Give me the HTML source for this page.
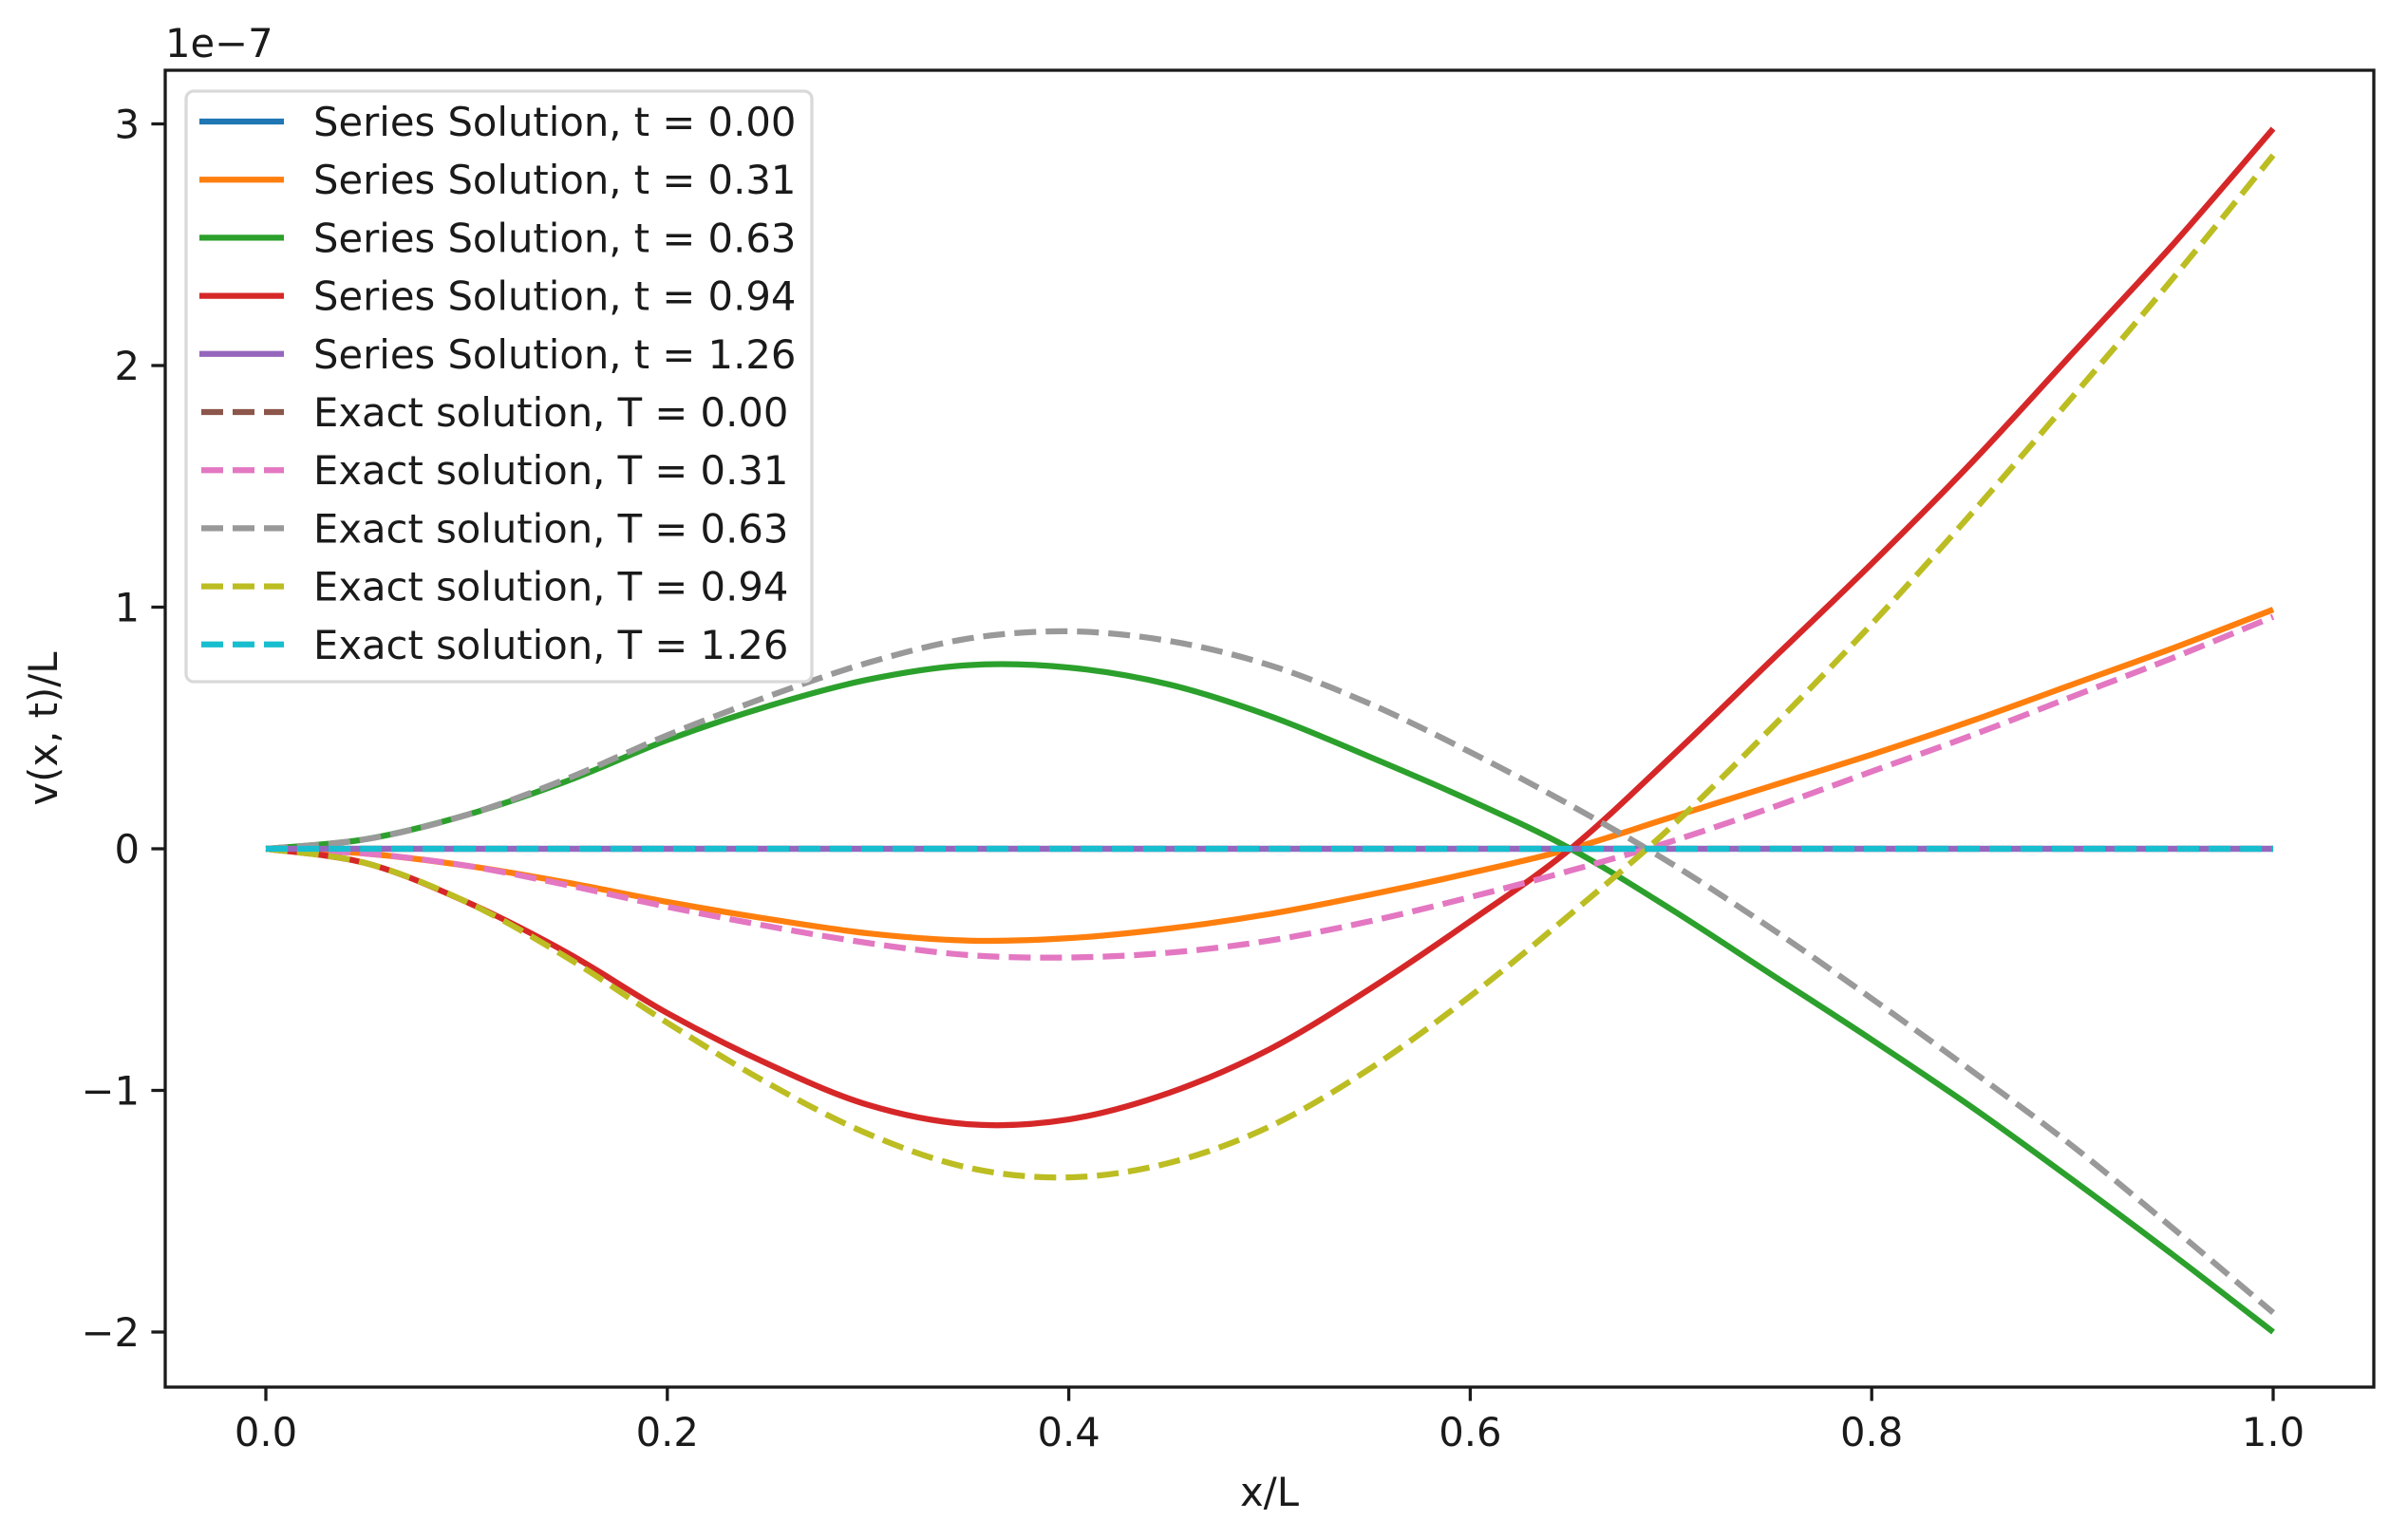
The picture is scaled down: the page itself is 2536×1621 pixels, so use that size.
<!DOCTYPE html>
<html><head><meta charset="utf-8"><style>
html,body{margin:0;padding:0;background:#fff}
svg{display:block;font-family:"DejaVu Sans","Liberation Sans",sans-serif}
</style></head><body>
<svg id="chart" width="2536" height="1621" viewBox="0 0 2536 1621" xmlns="http://www.w3.org/2000/svg"></svg>
<script>
const xs = [0,0.05,0.1,0.15,0.2,0.25,0.3,0.35,0.4,0.45,0.5,0.55,0.6,0.65,0.7,0.75,0.8,0.85,0.9,0.95,1.0];
const seriesT000 = [0,0,0,0,0,0,0,0,0,0,0,0,0,0,0,0,0,0,0,0,0];
const seriesT031 = [0,-0.02,-0.07,-0.14,-0.22,-0.29,-0.35,-0.38,-0.37,-0.33,-0.27,-0.19,-0.10,0,0.13,0.26,0.39,0.53,0.68,0.83,0.99];
const seriesT063 = [0,0.04,0.14,0.28,0.45,0.59,0.70,0.76,0.75,0.68,0.55,0.38,0.20,0,-0.25,-0.52,-0.79,-1.07,-1.37,-1.68,-2.0];
const seriesT094 = [0,-0.06,-0.22,-0.43,-0.68,-0.89,-1.06,-1.14,-1.12,-1.01,-0.83,-0.58,-0.30,0,0.38,0.78,1.18,1.60,2.05,2.50,2.98];
const seriesT126 = [0,0,0,0,0,0,0,0,0,0,0,0,0,0,0,0,0,0,0,0,0];
const exactT000 = [0,0,0,0,0,0,0,0,0,0,0,0,0,0,0,0,0,0,0,0,0];
const exactT031 = [0,-0.02,-0.07,-0.15,-0.24,-0.32,-0.39,-0.44,-0.45,-0.43,-0.38,-0.30,-0.20,-0.09,0.03,0.17,0.32,0.47,0.63,0.79,0.96];
const exactT063 = [0,0.04,0.14,0.29,0.47,0.63,0.77,0.87,0.90,0.86,0.76,0.60,0.40,0.18,-0.06,-0.33,-0.62,-0.92,-1.23,-1.57,-1.92];
const exactT094 = [0,-0.06,-0.22,-0.45,-0.72,-0.97,-1.18,-1.32,-1.36,-1.30,-1.15,-0.91,-0.61,-0.27,0.09,0.50,0.93,1.39,1.87,2.36,2.87];
const exactT126 = [0,0,0,0,0,0,0,0,0,0,0,0,0,0,0,0,0,0,0,0,0];
const xTicks = [0,0.2,0.4,0.6,0.8,1.0];
const xTickLabels = ["0.0","0.2","0.4","0.6","0.8","1.0"];
const yTicks = [-2,-1,0,1,2,3];
const yTickLabels = ["\u22122","\u22121","0","1","2","3"];
const legendLabels = ["Series Solution, t = 0.00","Series Solution, t = 0.31","Series Solution, t = 0.63","Series Solution, t = 0.94","Series Solution, t = 1.26","Exact solution, T = 0.00","Exact solution, T = 0.31","Exact solution, T = 0.63","Exact solution, T = 0.94","Exact solution, T = 1.26"];

const NS="http://www.w3.org/2000/svg";
const svg=document.getElementById('chart');
const L=174,R=2500,T=74,B=1461;
const X0=280,X1=2394; // pixel of x=0, x=1
const Y0=894,YU=254.5; // pixel of y=0, px per unit
const sx=v=>X0+(X1-X0)*v;
const sy=v=>Y0-YU*v;
function mk(tag,attrs,parent){const e=document.createElementNS(NS,tag);for(const k in attrs)e.setAttribute(k,attrs[k]);(parent||svg).appendChild(e);return e;}
function pathFor(vals){
  const p=xs.map((x,i)=>[sx(x),sy(vals[i])]);
  let d=`M${p[0][0]},${p[0][1]}`;
  for(let i=0;i<p.length-1;i++){
    const a=p[Math.max(0,i-1)],b=p[i],c=p[i+1],e=p[Math.min(p.length-1,i+2)];
    const c1=[b[0]+(c[0]-a[0])/6,b[1]+(c[1]-a[1])/6];
    const c2=[c[0]-(e[0]-b[0])/6,c[1]-(e[1]-b[1])/6];
    d+=` C${c1[0]},${c1[1]} ${c2[0]},${c2[1]} ${c[0]},${c[1]}`;
  }
  return d;
}
const series=[
 {v:seriesT000,c:"#1f77b4",dash:false,n:"series-t-0-00"},
 {v:seriesT031,c:"#ff7f0e",dash:false,n:"series-t-0-31"},
 {v:seriesT063,c:"#2ca02c",dash:false,n:"series-t-0-63"},
 {v:seriesT094,c:"#d62728",dash:false,n:"series-t-0-94"},
 {v:seriesT126,c:"#9467bd",dash:false,n:"series-t-1-26"},
 {v:exactT000,c:"#8c564b",dash:true,n:"exact-t-0-00"},
 {v:exactT031,c:"#e377c2",dash:true,n:"exact-t-0-31"},
 {v:exactT063,c:"#999999",dash:true,n:"exact-t-0-63"},
 {v:exactT094,c:"#bcbd22",dash:true,n:"exact-t-0-94"},
 {v:exactT126,c:"#17becf",dash:true,n:"exact-t-1-26"}
];
const g=mk('g',{});


series.forEach(s=>{
  const a={d:pathFor(s.v),fill:"none",stroke:s.c,"stroke-width":6.25};
  if(s.dash)a["stroke-dasharray"]="23 10";
  const e=mk('path',a,g);
  
  
});
// spines
const fr=mk('rect',{x:L,y:T,width:R-L,height:B-T,fill:"none",stroke:"#1a1a1a","stroke-width":3.3});


// ticks
xTicks.forEach((t,i)=>{
  const l=mk('line',{x1:sx(t),x2:sx(t),y1:B,y2:B+14.6,stroke:"#1a1a1a","stroke-width":3.3});
  
  
  const tx=mk('text',{x:sx(t),y:B+62,"font-size":41.7,"text-anchor":"middle",fill:"#1a1a1a"});
  tx.textContent=xTickLabels[i];
  
  
});
yTicks.forEach((t,i)=>{
  const l=mk('line',{x1:L-14.6,x2:L,y1:sy(t),y2:sy(t),stroke:"#1a1a1a","stroke-width":3.3});
  
  
  const tx=mk('text',{x:L-27,y:sy(t)+15,"font-size":41.7,"text-anchor":"end",fill:"#1a1a1a"});
  tx.textContent=yTickLabels[i];
  
  
});
// labels
let e=mk('text',{x:174,y:60,"font-size":41.7,fill:"#1a1a1a"});e.textContent="1e\u22127";


e=mk('text',{x:(L+R)/2,y:1586,"font-size":41.7,"text-anchor":"middle",fill:"#1a1a1a"});e.textContent="x/L";


e=mk('text',{x:0,y:0,"font-size":41.7,"text-anchor":"middle",fill:"#1a1a1a",transform:`translate(60,${(T+B)/2}) rotate(-90)`});e.textContent="v(x, t)/L";


// legend
const lg=mk('g',{});


const lb=mk('rect',{x:196,y:96,width:659,height:622,rx:8,fill:"#fff","fill-opacity":0.8,stroke:"#d9d9d9","stroke-width":3.3},lg);


series.forEach((s,i)=>{
  const y=128+i*61.2;
  const a={x1:210,x2:299,y1:y,y2:y,stroke:s.c,"stroke-width":6.25};
  if(s.dash){a["stroke-dasharray"]="23 10";a.x1=212;}
  const l=mk('line',a,lg);
  
  
  const t=mk('text',{x:330,y:y+15,"font-size":41.7,fill:"#1a1a1a"},lg);
  t.textContent=legendLabels[i];
  
  
});
</script>
</body></html>
